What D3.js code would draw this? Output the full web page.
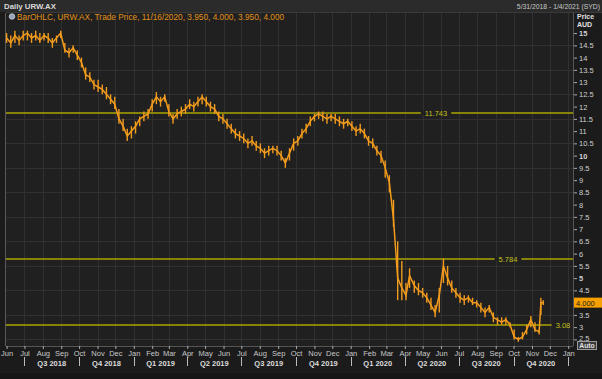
<!DOCTYPE html>
<html><head><meta charset="utf-8">
<script src="https://cdn.jsdelivr.net/npm/d3@7/dist/d3.min.js"></script>
<style>html,body{margin:0;padding:0;background:#1b1b1b;}svg{display:block;}</style>
</head><body>
<script>
// ---- data (weekly) ----
const dates = ["2018-06-01","2018-06-08","2018-06-15","2018-06-22","2018-06-29","2018-07-06","2018-07-13","2018-07-20","2018-07-27","2018-08-03","2018-08-10","2018-08-17","2018-08-24","2018-08-31","2018-09-07","2018-09-14","2018-09-21","2018-09-28","2018-10-05","2018-10-12","2018-10-19","2018-10-26","2018-11-02","2018-11-09","2018-11-16","2018-11-23","2018-11-30","2018-12-07","2018-12-14","2018-12-21","2018-12-28",
"2019-01-04","2019-01-11","2019-01-18","2019-01-25","2019-02-01","2019-02-08","2019-02-15","2019-02-22","2019-03-01","2019-03-08","2019-03-15","2019-03-22","2019-03-29","2019-04-05","2019-04-12","2019-04-19","2019-04-26","2019-05-03","2019-05-10","2019-05-17","2019-05-24","2019-05-31","2019-06-07","2019-06-14","2019-06-21","2019-06-28","2019-07-05","2019-07-12","2019-07-19","2019-07-26","2019-08-02","2019-08-09","2019-08-16","2019-08-23","2019-08-30","2019-09-06","2019-09-13","2019-09-20","2019-09-27","2019-10-04","2019-10-11","2019-10-18","2019-10-25","2019-11-01","2019-11-08","2019-11-15","2019-11-22","2019-11-29","2019-12-06","2019-12-13","2019-12-20","2019-12-27",
"2020-01-03","2020-01-10","2020-01-17","2020-01-24","2020-01-31","2020-02-07","2020-02-14","2020-02-21","2020-02-28","2020-03-06","2020-03-13","2020-03-20","2020-03-27","2020-04-03","2020-04-09","2020-04-17","2020-04-24","2020-05-01","2020-05-08","2020-05-15","2020-05-22","2020-05-29","2020-06-05","2020-06-12","2020-06-19","2020-06-26","2020-07-03","2020-07-10","2020-07-17","2020-07-24","2020-07-31","2020-08-07","2020-08-14","2020-08-21","2020-08-28","2020-09-04","2020-09-11","2020-09-18","2020-09-25","2020-10-02","2020-10-09","2020-10-16","2020-10-23","2020-10-30","2020-11-06","2020-11-13","2020-11-16","2020-11-20"];
const closes = [14.8,14.6,14.9,14.7,14.9,15.0,14.8,14.9,14.7,14.9,14.8,14.6,14.8,15.0,14.3,14.2,14.4,14.1,13.8,13.3,13.2,12.9,12.8,12.7,12.5,12.3,12.1,11.5,11.2,10.8,11.0,
11.2,11.5,11.6,11.7,12.1,12.4,12.2,12.4,11.8,11.5,11.7,11.8,11.9,12.1,12.0,12.2,12.4,12.2,12.0,11.9,11.6,11.5,11.3,11.1,10.9,10.8,10.7,10.5,10.6,10.4,10.3,10.1,10.2,10.3,10.2,10.0,9.7,10.1,10.5,10.6,10.9,11.1,11.4,11.6,11.7,11.6,11.5,11.6,11.5,11.4,11.3,11.4,
11.2,11.0,11.1,10.9,10.6,10.5,10.2,10.0,9.5,8.9,7.4,5.0,4.6,4.3,5.1,4.7,4.5,4.4,4.2,3.9,3.6,4.3,5.5,5.0,4.6,4.4,4.2,4.1,4.2,4.0,4.0,3.8,3.6,3.8,3.4,3.3,3.2,3.3,3.1,2.6,2.5,2.6,2.9,3.3,2.9,2.8,4.0,4.0];
const lows = [14.6,14.4,14.6,14.5,14.7,14.7,14.6,14.7,14.6,14.7,14.6,14.4,14.6,14.8,14.2,14.0,14.2,13.9,13.6,13.1,13.0,12.7,12.6,12.5,12.3,12.1,11.9,11.3,11.0,10.6,10.7,
10.9,11.2,11.4,11.5,11.8,12.1,12.0,12.2,11.6,11.3,11.5,11.6,11.7,11.9,11.8,12.0,12.1,12.0,11.8,11.7,11.4,11.3,11.1,10.9,10.7,10.6,10.5,10.3,10.4,10.2,10.1,9.9,10.0,10.1,10.0,9.8,9.5,9.8,10.2,10.4,10.7,10.9,11.2,11.4,11.5,11.4,11.3,11.4,11.3,11.2,11.1,11.2,
11.0,10.8,10.9,10.7,10.4,10.3,10.0,9.7,9.1,8.5,7.1,4.1,4.1,4.1,4.6,4.4,4.3,4.2,4.0,3.7,3.4,3.6,4.8,4.7,4.4,4.2,4.0,3.9,4.0,3.9,3.8,3.6,3.4,3.6,3.2,3.1,3.1,3.1,3.0,2.5,2.4,2.5,2.7,3.0,2.8,2.7,3.5,3.9];
const highs = [15.0,14.9,15.1,14.9,15.1,15.1,15.0,15.1,15.0,15.0,15.0,14.8,14.9,15.1,14.6,14.4,14.5,14.3,14.0,13.6,13.4,13.1,13.1,12.9,12.8,12.5,12.4,11.9,11.5,11.1,11.2,
11.4,11.6,11.8,11.9,12.3,12.6,12.4,12.5,12.1,11.7,11.9,12.0,12.1,12.3,12.2,12.4,12.5,12.4,12.2,12.1,11.8,11.7,11.5,11.3,11.1,11.0,10.9,10.7,10.8,10.6,10.5,10.3,10.4,10.4,10.4,10.2,9.9,10.3,10.7,10.8,11.1,11.3,11.6,11.7,11.8,11.8,11.7,11.7,11.7,11.6,11.5,11.5,
11.4,11.2,11.3,11.1,10.8,10.7,10.4,10.2,9.8,9.2,8.2,6.5,5.7,4.8,5.4,4.9,4.8,4.6,4.4,4.2,3.9,4.6,5.8,5.5,4.9,4.6,4.4,4.3,4.3,4.2,4.1,4.0,3.8,3.9,3.6,3.4,3.4,3.4,3.2,2.9,2.6,2.8,3.1,3.45,3.2,2.9,4.2,4.1];
const levelValues = [11.743, 5.784, 3.08];
const levelLabels = ["11.743", "5.784", "3.08"];
const yTickValues = [15,14.5,14,13.5,13,12.5,12,11.5,11,10.5,10,9.5,9,8.5,8,7.5,7,6.5,6,5.5,5,4.5,4,3.5,3,2.5];
const quarterLabels = ["Q3 2018","Q4 2018","Q1 2019","Q2 2019","Q3 2019","Q4 2019","Q1 2020","Q2 2020","Q3 2020","Q4 2020"];
const quarterStarts = ["2018-07-01","2018-10-01","2019-01-01","2019-04-01","2019-07-01","2019-10-01","2020-01-01","2020-04-01","2020-07-01","2020-10-01","2021-01-01"];
const lastPrice = 4.0;

// ---- layout ----
const W = 602, H = 379;
const L = 6, R = 573, T = 13, B = 346;
const FONT = "'Liberation Sans', Arial, sans-serif";
const parse = d3.utcParse("%Y-%m-%d");
const data = dates.map((d,i)=>({date:parse(d), close:closes[i], low:lows[i], high:highs[i]}));

const x = d3.scaleUtc().domain([parse("2018-05-31"), parse("2021-01-09")]).range([L, R]);
const y = d3.scaleLinear().domain([2.23, 15.82]).range([B, T]);

const svg = d3.select("body").append("svg").attr("width", W).attr("height", H)
  .style("font-family", FONT);

svg.append("rect").attr("width", W).attr("height", H).attr("fill", "#1b1b1b");
// title bar
svg.append("rect").attr("x",0).attr("y",0).attr("width",W).attr("height",12).attr("fill","#2b2b2b");
svg.append("text").attr("x",4).attr("y",9).attr("fill","#d8d8d8").attr("font-size",7.8).attr("font-weight","bold").text("Daily URW.AX");
svg.append("text").attr("x",600).attr("y",9).attr("text-anchor","end").attr("fill","#c8c8c8").attr("font-size",6.8).text("5/31/2018 - 1/4/2021 (SYD)");

// plot background
svg.append("rect").attr("x",L).attr("y",T).attr("width",R-L).attr("height",B-T).attr("fill","#202020");
// frame lines
svg.append("line").attr("x1",L-0.5).attr("x2",L-0.5).attr("y1",T).attr("y2",B).attr("stroke","#5a5a5a");
svg.append("line").attr("x1",L).attr("x2",W).attr("y1",T-0.5).attr("y2",T-0.5).attr("stroke","#3a3a3a");

// grid
const months = x.ticks(d3.utcMonth.every(1)).filter(d => x(d) > L+1 && x(d) < R-1);
svg.append("g").selectAll("line").data(months).join("line")
  .attr("x1", d=>Math.round(x(d))+0.5).attr("x2", d=>Math.round(x(d))+0.5)
  .attr("y1", T).attr("y2", B).attr("stroke", "#303030");
const gridVals = yTickValues.filter(v => Math.abs(v % 1 - 0.5) < 1e-9);
svg.append("g").selectAll("line").data(gridVals).join("line")
  .attr("x1", L).attr("x2", R).attr("y1", d=>Math.round(y(d))+0.5).attr("y2", d=>Math.round(y(d))+0.5)
  .attr("stroke", "#303030");

// legend row
svg.append("circle").attr("cx",12).attr("cy",16.5).attr("r",2.8).attr("fill","#9aa4b8").attr("stroke","#dfe6f0").attr("stroke-width",0.6);
svg.append("text").attr("x",17).attr("y",19.5).attr("fill","#e0901a").attr("font-size",8.3)
  .text("BarOHLC, URW.AX, Trade Price,  11/16/2020, 3.950, 4.000, 3.950, 4.000");

// level lines
const lvlColor = "#a8a400";
const lvlPos = [436, 508, 563];
levelValues.forEach((v,i)=>{
  const yy = Math.round(y(v));
  svg.append("line").attr("x1",L).attr("x2",R).attr("y1",yy).attr("y2",yy)
    .attr("stroke",lvlColor).attr("stroke-width",1.5);
  const t = svg.append("text").attr("x",lvlPos[i]).attr("y",yy+2.8).attr("text-anchor","middle")
    .attr("fill","#c4c01c").attr("font-size",7.5).text(levelLabels[i]);
  const bb = t.node().getBBox();
  svg.append("rect").attr("x",bb.x-4).attr("y",yy-2).attr("width",bb.width+8).attr("height",4).attr("fill","#202020");
  t.raise();
});

// price series
const orange = "#f29b1d";
svg.append("g").selectAll("line").data(data).join("line")
  .attr("x1", d=>x(d.date)).attr("x2", d=>x(d.date))
  .attr("y1", d=>y(d.low)).attr("y2", d=>y(d.high))
  .attr("stroke", orange).attr("stroke-width", 1.4);
svg.append("path").datum(data)
  .attr("d", d3.line().x(d=>x(d.date)).y(d=>y(d.close)))
  .attr("fill","none").attr("stroke", orange).attr("stroke-width", 1.5);

// right axis
svg.append("line").attr("x1",R+0.5).attr("x2",R+0.5).attr("y1",T).attr("y2",B).attr("stroke","#555");
const yAxis = d3.axisRight(y).tickValues(yTickValues).tickSize(3).tickPadding(2)
  .tickFormat(d => d3.format("")(d));
const gy = svg.append("g").attr("transform", `translate(${R+1},0)`).call(yAxis);
gy.select(".domain").remove();
gy.selectAll(".tick line").attr("stroke","#aaaaaa");
gy.selectAll(".tick text").attr("fill","#d0d0d0").attr("font-size",7.5).attr("font-family",FONT)
  .attr("font-weight", d => d % 5 === 0 ? "bold" : "normal");
// the last-price box covers the "4" label; the "2.5" label sits just above the Auto button
gy.selectAll(".tick").filter(d => d === lastPrice).select("text").remove();
gy.selectAll(".tick").filter(d => d === 2.5).select("text").attr("dy","0.1em");
svg.append("text").attr("x",577).attr("y",19).attr("fill","#e0e0e0").attr("font-size",7).attr("font-weight","bold").text("Price");
svg.append("text").attr("x",577).attr("y",27).attr("fill","#e0e0e0").attr("font-size",7).attr("font-weight","bold").text("AUD");

// last price marker
svg.append("rect").attr("x",R+1).attr("y",y(lastPrice)-5).attr("width",W-R-1).attr("height",10).attr("fill","#f7a000");
svg.append("text").attr("x",R+3).attr("y",y(lastPrice)+3).attr("fill","#1a1a1a").attr("font-size",7.5).text(d3.format(".3f")(lastPrice));

// Auto button
svg.append("rect").attr("x",577.5).attr("y",341.5).attr("width",19).attr("height",8).attr("fill","#3a3a3a").attr("stroke","#9a9a9a");
svg.append("text").attr("x",587).attr("y",348.3).attr("text-anchor","middle").attr("fill","#e0e0e0").attr("font-size",6.8).attr("font-weight","bold").text("Auto");

// bottom axis
svg.append("line").attr("x1",L).attr("x2",R).attr("y1",B+0.5).attr("y2",B+0.5).attr("stroke","#555");
const allMonths = x.ticks(d3.utcMonth.every(1)).filter(d => x(d) >= L && x(d) <= R);
const xAxis = d3.axisBottom(x).tickValues(allMonths).tickSize(3).tickPadding(2).tickFormat(d3.utcFormat("%b"));
const gx = svg.append("g").attr("transform", `translate(0,${B})`).call(xAxis);
gx.select(".domain").remove();
gx.selectAll(".tick line").attr("stroke","#aaaaaa");
gx.selectAll(".tick text").attr("fill","#c8c8c8").attr("font-size",7.5).attr("font-family",FONT);

const qs = quarterStarts.map(parse);
svg.append("g").selectAll("line").data(qs).join("line")
  .attr("x1", d=>Math.round(x(d))+0.5).attr("x2", d=>Math.round(x(d))+0.5)
  .attr("y1", 357).attr("y2", 366).attr("stroke","#bbbbbb");
svg.append("g").selectAll("text").data(quarterLabels).join("text")
  .attr("x", (d,i)=>(x(qs[i])+x(qs[i+1]))/2).attr("y", 366)
  .attr("text-anchor","middle").attr("fill","#dcdcdc").attr("font-size",7.5).attr("font-weight","bold")
  .text(d=>d);

// bottom strip
svg.append("rect").attr("x",0).attr("y",373).attr("width",W).attr("height",6).attr("fill","#151515");
</script>
</body></html>
